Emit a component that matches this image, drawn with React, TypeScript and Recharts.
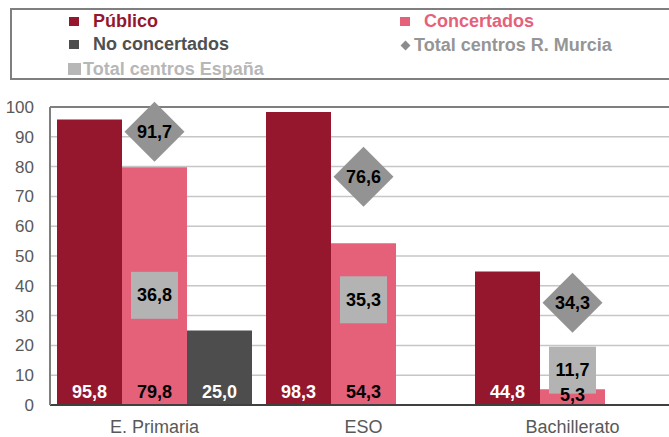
import React from "react";
import {
  ComposedChart,
  Bar,
  Line,
  XAxis,
  YAxis,
  CartesianGrid,
  ReferenceLine,
  LabelList,
} from "recharts";

const categories = ["E. Primaria", "ESO", "Bachillerato"];
const publico = [95.8, 98.3, 44.8];
const concertados = [79.8, 54.3, 5.3];
const noConcertados: (number | null)[] = [25.0, null, null];
const totalMurcia = [91.7, 76.6, 34.3];
const totalEspana = [36.8, 35.3, 11.7];
const yTicks = [0, 10, 20, 30, 40, 50, 60, 70, 80, 90, 100];

const C_PUBLICO = "#95172e";
const C_CONCERTADOS = "#e5617a";
const C_NOCONC = "#4d4d4d";
const C_MURCIA = "#939393";
const C_ESPANA = "#b3b3b3";
const FONT = '"Liberation Sans", Arial, sans-serif';

const data = categories.map((name, i) => ({
  name,
  publico: publico[i],
  concertados: concertados[i],
  noConcertados: noConcertados[i],
  murcia: totalMurcia[i],
  espana: totalEspana[i],
}));

const fmt = (v: number) => v.toFixed(1).replace(".", ",");

function barLabel(fill: string) {
  return (props: any) => {
    const { x, y, width, height, value } = props;
    if (value == null) return null;
    // short bars push the label down a bit, as in the original
    const cy = height < 30 ? y + height - 10 : y + height - 13;
    return (
      <text
        x={x + width / 2}
        y={cy}
        textAnchor="middle"
        dominantBaseline="central"
        fill={fill}
        fontFamily={FONT}
        fontWeight="bold"
        fontSize={18}
      >
        {fmt(value)}
      </text>
    );
  };
}

function DiamondDot(props: any) {
  const { cx, cy, payload } = props;
  if (cx == null || cy == null) return null;
  const r = 30;
  return (
    <g>
      <polygon
        points={`${cx},${cy - r} ${cx + r},${cy} ${cx},${cy + r} ${cx - r},${cy}`}
        fill={C_MURCIA}
      />
      <text
        x={cx}
        y={cy}
        textAnchor="middle"
        dominantBaseline="central"
        fill="#000"
        fontFamily={FONT}
        fontWeight="bold"
        fontSize={18}
      >
        {fmt(payload.murcia)}
      </text>
    </g>
  );
}

function SquareDot(props: any) {
  const { cx, cy, payload } = props;
  if (cx == null || cy == null) return null;
  const s = 47;
  return (
    <g>
      <rect x={cx - s / 2} y={cy - s / 2} width={s} height={s} fill={C_ESPANA} />
      <text
        x={cx}
        y={cy}
        textAnchor="middle"
        dominantBaseline="central"
        fill="#000"
        fontFamily={FONT}
        fontWeight="bold"
        fontSize={18}
      >
        {fmt(payload.espana)}
      </text>
    </g>
  );
}

const legendItems = [
  { label: "Público", color: C_PUBLICO, text: C_PUBLICO, marker: "square", x: 69, tx: 93, y: 21 },
  { label: "Concertados", color: C_CONCERTADOS, text: C_CONCERTADOS, marker: "square", x: 400, tx: 424, y: 21 },
  { label: "No concertados", color: C_NOCONC, text: "#505050", marker: "square", x: 69, tx: 93, y: 44 },
  { label: "Total centros R. Murcia", color: "#8c8c8c", text: "#959595", marker: "diamond", x: 400, tx: 414, y: 45 },
  { label: "Total centros España", color: "#b7b7b7", text: "#b7b7b7", marker: "bigsquare", x: 68, tx: 83, y: 69 },
];

// children are placed relative to the padding box (box left/top 10 + 2px border)
const OX = 12;
const OY = 10;

function LegendBox() {
  return (
    <div
      style={{
        position: "absolute",
        left: 10,
        top: 8,
        width: 700,
        height: 72,
        border: "2px solid #7f7f7f",
        boxSizing: "border-box",
      }}
    >
      {legendItems.map((it) => {
        let marker;
        if (it.marker === "diamond") {
          marker = (
            <div
              style={{
                position: "absolute",
                left: it.x - OX + 2,
                top: it.y - OY - 3,
                width: 7,
                height: 7,
                background: it.color,
                transform: "rotate(45deg)",
              }}
            />
          );
        } else if (it.marker === "bigsquare") {
          marker = (
            <div
              style={{
                position: "absolute",
                left: it.x - OX,
                top: it.y - OY - 6,
                width: 13,
                height: 12,
                background: it.color,
              }}
            />
          );
        } else {
          marker = (
            <div
              style={{
                position: "absolute",
                left: it.x - OX,
                top: it.y - OY - 4,
                width: 10,
                height: 9,
                background: it.color,
              }}
            />
          );
        }
        return (
          <React.Fragment key={it.label}>
            {marker}
            <span
              style={{
                position: "absolute",
                left: it.tx - OX,
                top: it.y - OY - 11,
                lineHeight: "22px",
                fontFamily: FONT,
                fontWeight: "bold",
                fontSize: 18,
                color: it.text,
                whiteSpace: "nowrap",
              }}
            >
              {it.label}
            </span>
          </React.Fragment>
        );
      })}
    </div>
  );
}

export default function App() {
  return (
    <div
      style={{
        position: "absolute",
        left: 0,
        top: 0,
        width: 669,
        height: 437,
        overflow: "hidden",
        background: "#fff",
      }}
    >
      <LegendBox />
      <ComposedChart
        width={677}
        height={437}
        data={data}
        margin={{ top: 107, right: 0, bottom: 0, left: 0 }}
        barCategoryGap={7}
        barGap={0}
      >
        <CartesianGrid
          horizontal
          vertical={false}
          stroke="#c6c6c6"
          strokeWidth={1.5}
        />
        <XAxis
          dataKey="name"
          height={32}
          axisLine={{ stroke: "#404040", strokeWidth: 2 }}
          tickLine={false}
          tickSize={0}
          tickMargin={15}
          tick={{ fontSize: 18, fill: "#595959", fontFamily: FONT }}
        />
        <YAxis
          width={50}
          domain={[0, 100]}
          ticks={yTicks}
          interval={0}
          axisLine={{ stroke: "#7f7f7f", strokeWidth: 2 }}
          tickLine={false}
          tickSize={0}
          tickMargin={16}
          tick={{ fontSize: 17, fill: "#595959", fontFamily: FONT }}
        />
        <ReferenceLine y={100} stroke="#7f7f7f" strokeWidth={2} />
        <Bar dataKey="publico" fill={C_PUBLICO} isAnimationActive={false}>
          <LabelList dataKey="publico" content={barLabel("#fff")} />
        </Bar>
        <Bar dataKey="concertados" fill={C_CONCERTADOS} isAnimationActive={false}>
          <LabelList dataKey="concertados" content={barLabel("#000")} />
        </Bar>
        <Bar dataKey="noConcertados" fill={C_NOCONC} isAnimationActive={false}>
          <LabelList dataKey="noConcertados" content={barLabel("#fff")} />
        </Bar>
        <Line
          dataKey="espana"
          stroke="none"
          dot={<SquareDot />}
          activeDot={false}
          isAnimationActive={false}
        />
        <Line
          dataKey="murcia"
          stroke="none"
          dot={<DiamondDot />}
          activeDot={false}
          isAnimationActive={false}
        />
      </ComposedChart>
    </div>
  );
}
